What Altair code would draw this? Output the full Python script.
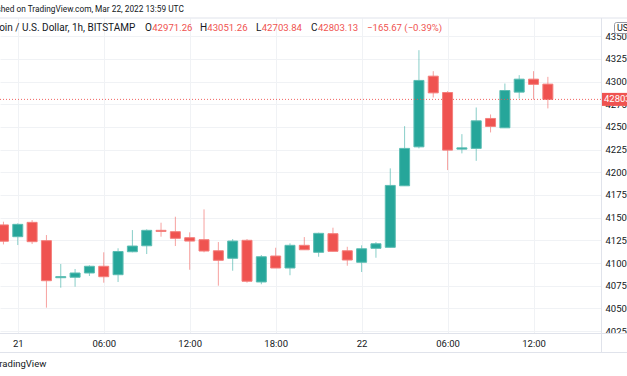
import altair as alt
import pandas as pd

# ---- data (hours since 2022-03-21 00:00 UTC, 1h candles) ----
hours = list(range(-1, 38))
opens = [41420, 41290, 41448, 41246, 40838, 40843, 40890, 40964, 40871, 41124,
         41190, 41360, 41345, 41279, 41257, 41135, 41052, 41250, 40791, 41077,
         40945, 41195, 41118, 41323, 41135, 41008, 41162, 41173, 41851, 42280,
         43059, 42879, 42255, 42263, 42593, 42490, 42883, 43026, 42971.26]
highs = [41455, 41437, 41473, 41308, 40989, 40934, 40975, 41118, 41162, 41363,
         41371, 41444, 41510, 41338, 41591, 41231, 41264, 41264, 41088, 41168,
         41217, 41286, 41334, 41389, 41179, 41195, 41231, 42043, 42508, 43345,
         43114, 42894, 42420, 42714, 42637, 42978, 43070, 43114, 43051.26]
lows = [41205, 41198, 41209, 40508, 40728, 40739, 40857, 40783, 40791, 41118,
        41099, 41290, 41187, 40926, 41118, 40750, 40915, 40783, 40766, 40945,
        40865, 41146, 41069, 41129, 40970, 40901, 41058, 41173, 41851, 42263,
        42824, 42024, 42208, 42126, 42439, 42490, 42813, 42802, 42703.84]
closes = [41240, 41426, 41235, 40805, 40850, 40890, 40964, 40849, 41127, 41187,
          41360, 41348, 41272, 41242, 41132, 41030, 41242, 40799, 41069, 40945,
          41195, 41146, 41327, 41129, 41033, 41157, 41212, 41855, 42263, 43012,
          42875, 42244, 42269, 42567, 42505, 42901, 43026, 42968.80, 42803.13]

last_price = 42803.13
price_ticks = [40250, 40500, 40750, 41000, 41250, 41500, 41750, 42000, 42250,
               42500, 42750, 43000, 43250, 43500]
time_ticks = [0, 6, 12, 18, 24, 30, 36]
time_labels = ["21", "06:00", "12:00", "18:00", "22", "06:00", "12:00"]

header_text = "Published on TradingView.com, Mar 22, 2022 13:59 UTC"
symbol_text = "Bitcoin / U.S. Dollar, 1h, BITSTAMP"
ohlc_letters = ["O", "H", "L", "C"]
ohlc_values = ["42971.26", "43051.26", "42703.84", "42803.13"]
change_text = "\u2212165.67 (\u22120.39%)"
watermark_text = "TradingView"
currency_text = "USD"

UP = "#26a69a"
DOWN = "#ef5350"
FONT = "Roboto"
TXT = "#131722"

df = pd.DataFrame({"h": hours, "open": opens, "high": highs, "low": lows, "close": closes})
df["dir"] = ["up" if c >= o else "down" for o, c in zip(opens, closes)]

x_scale = alt.Scale(domain=[-0.892, 40.36], nice=False, zero=False)
y_scale = alt.Scale(domain=[40228.7, 43700], nice=False, zero=False)
color_scale = alt.Scale(domain=["up", "down"], range=[UP, DOWN])

label_expr = " : ".join(
    f"datum.value == {t} ? '{l}'" for t, l in zip(time_ticks, time_labels)
) + " : ''"

x_axis = alt.Axis(values=time_ticks, labelExpr=label_expr, grid=True,
                  gridColor="#f0f2f5", domainColor="#e0e3eb", ticks=False,
                  labelFont=FONT, labelFontSize=9.5, labelColor=TXT,
                  labelBaseline="middle", labelPadding=10, labelOverlap=False,
                  zindex=0, title=None)
y_axis = alt.Axis(orient="right", values=price_ticks, format="d", grid=True,
                  gridColor="#f0f2f5", domainColor="#e0e3eb", ticks=False,
                  labelFont=FONT, labelFontSize=9.5, labelColor=TXT,
                  labelAlign="left", labelBaseline="middle", labelPadding=4,
                  labelOverlap=False, labelBound=False, labelFlush=False,
                  zindex=0, title=None)

base = alt.Chart(df)

wicks = base.mark_rule(strokeWidth=1, opacity=0.55).encode(
    x=alt.X("h:Q", scale=x_scale, axis=x_axis),
    y=alt.Y("low:Q", scale=y_scale, axis=y_axis),
    y2="high:Q",
    color=alt.Color("dir:N", scale=color_scale, legend=None),
)

bodies = base.mark_bar(size=10, strokeWidth=1).encode(
    x=alt.X("h:Q", scale=x_scale, axis=x_axis),
    y=alt.Y("open:Q", scale=y_scale, axis=y_axis),
    y2="close:Q",
    color=alt.Color("dir:N", scale=color_scale, legend=None),
    stroke=alt.Stroke("dir:N", scale=alt.Scale(domain=["up", "down"], range=["#5cbdb3", "#f47f7c"]), legend=None),
)

last_df = pd.DataFrame({"p": [last_price], "label": [f"{last_price:.2f}"]})
last_line = alt.Chart(last_df).mark_rule(color=DOWN, strokeDash=[1, 2], strokeWidth=1, opacity=0.9).encode(
    y=alt.Y("p:Q", scale=y_scale, axis=y_axis)
)
last_box = alt.Chart(last_df).mark_tick(color=DOWN, thickness=13, size=30, opacity=1).encode(
    y=alt.Y("p:Q", scale=y_scale, axis=y_axis), x=alt.value(617)
)
last_text = alt.Chart(last_df).mark_text(align="left", baseline="middle", color="white",
                                         font=FONT, fontSize=9.5).encode(
    y=alt.Y("p:Q", scale=y_scale, axis=y_axis), x=alt.value(604), text="label:N"
)

# cover for the lower half of the bottom price label (time-axis strip)
axis_cover = alt.Chart(last_df).mark_rect(fill="white").encode(
    x=alt.value(602), x2=alt.value(640), y=alt.value(315.5), y2=alt.value(345))

# frame lines
sep_v = alt.Chart(last_df).mark_rule(color="#e0e3eb", strokeWidth=1).encode(
    x=alt.value(601.5), y=alt.value(0), y2=alt.value(334.5))
sep_top = alt.Chart(last_df).mark_rule(color="#e0e3eb", strokeWidth=1).encode(
    x=alt.value(0), x2=alt.value(640), y=alt.value(0))
sep_mid = alt.Chart(last_df).mark_rule(color="#e0e3eb", strokeWidth=1).encode(
    x=alt.value(0), x2=alt.value(640), y=alt.value(315.5))
sep_bot = alt.Chart(last_df).mark_rule(color="#e0e3eb", strokeWidth=1).encode(
    x=alt.value(0), x2=alt.value(640), y=alt.value(334.5))

# texts
header = alt.Chart(last_df).mark_text(align="left", baseline="middle", font=FONT, fontSize=8.3,
                                      color=TXT, text=header_text).encode(
    x=alt.value(-22), y=alt.value(-8))
symbol = alt.Chart(last_df).mark_text(align="left", baseline="middle", font=FONT, fontSize=10,
                                      color=TXT, text=symbol_text).encode(
    x=alt.value(-18), y=alt.value(10))

leg_layers = []
leg_x = [145, 200, 256, 311]
letter_w = [7.2, 7.3, 5.7, 6.9]
for lx, lw, letter, val in zip(leg_x, letter_w, ohlc_letters, ohlc_values):
    leg_layers.append(alt.Chart(last_df).mark_text(align="left", baseline="middle", font=FONT,
                                                   fontSize=10, color=TXT, text=letter).encode(
        x=alt.value(lx), y=alt.value(10)))
    leg_layers.append(alt.Chart(last_df).mark_text(align="left", baseline="middle", font=FONT,
                                                   fontSize=9.6, color=DOWN, text=val).encode(
        x=alt.value(lx + lw), y=alt.value(10)))
leg_layers.append(alt.Chart(last_df).mark_text(align="left", baseline="middle", font=FONT,
                                               fontSize=9.6, color=DOWN, text=change_text).encode(
    x=alt.value(367), y=alt.value(10)))

watermark = alt.Chart(last_df).mark_text(align="left", baseline="middle", font=FONT, fontSize=9.5,
                                         color=TXT, text=watermark_text).encode(
    x=alt.value(-6), y=alt.value(346))

cur_box = alt.Chart(last_df).mark_rect(fill="white", stroke="#9598a1", strokeWidth=1,
                                       cornerRadius=2, opacity=1).encode(
    x=alt.value(614.5), x2=alt.value(640), y=alt.value(4.5), y2=alt.value(15.5))
cur_text = alt.Chart(last_df).mark_text(align="left", baseline="middle", font=FONT, fontSize=9,
                                        color=TXT, text=currency_text).encode(
    x=alt.value(617), y=alt.value(10))

chart = alt.layer(
    wicks, bodies, last_line, axis_cover, sep_v, sep_top, sep_mid, sep_bot, last_box, last_text,
    header, symbol, *leg_layers, watermark, cur_box, cur_text
).properties(
    width=601, height=315, autosize="none",
    padding={"left": 0, "top": 18, "right": 26, "bottom": 43},
    background="white",
).configure_view(stroke=None).configure_axis(labelOverlap=False)

chart.save("out.html", embed_options={"renderer": "svg", "actions": False})
